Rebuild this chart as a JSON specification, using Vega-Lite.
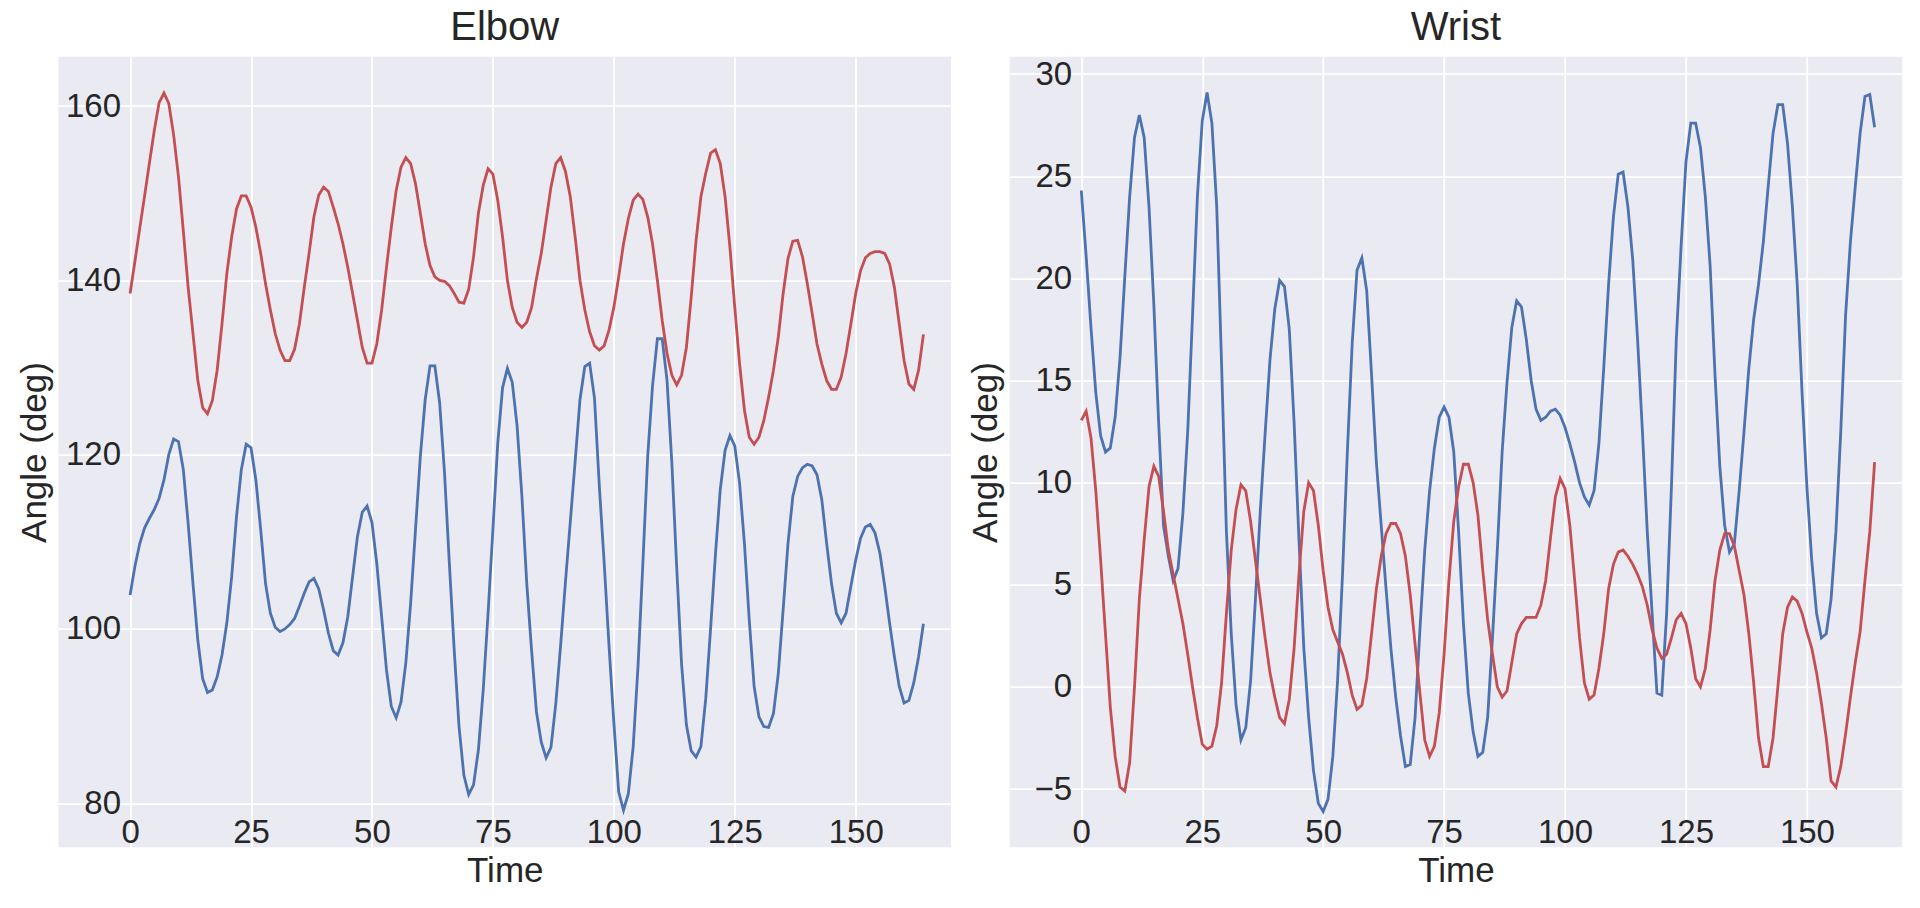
{
  "$schema": "https://vega.github.io/schema/vega-lite/v6.json",
  "autosize": {"type": "none"},
  "padding": {"left": 58.5, "top": 56.7, "right": 1861.5, "bottom": 851.3},
  "background": "white",
  "bounds": "flush",
  "spacing": 58.2,
  "config": {
    "font": "Liberation Sans",
    "view": {"fill": "#EAEAF2", "stroke": null},
    "axis": {
      "domain": false, "ticks": false, "tickSize": 0, "labelPadding": 0,
      "gridColor": "white", "gridWidth": 1.8,
      "labelFont": "Liberation Sans", "labelFontSize": 33, "labelColor": "#262626",
      "titleFont": "Liberation Sans", "titleFontSize": 35, "titleFontWeight": "normal", "titleColor": "#262626",
      "labelFlush": false, "labelOverlap": false
    },
    "title": {"font": "Liberation Sans", "fontSize": 40, "fontWeight": "normal", "color": "#262626", "baseline": "alphabetic", "offset": 9, "frame": "group", "anchor": "middle"}
  },
  "data": {"values": [
    {"t":0,"eb":103.9,"er":138.5,"wb":24.3,"wr":13.05},
    {"t":1,"eb":107.2,"er":142.2,"wb":21.1,"wr":13.5},
    {"t":2,"eb":109.8,"er":146.0,"wb":17.6,"wr":12.2},
    {"t":3,"eb":111.6,"er":149.7,"wb":14.4,"wr":9.6},
    {"t":4,"eb":112.7,"er":153.5,"wb":12.3,"wr":6.2},
    {"t":5,"eb":113.7,"er":157.2,"wb":11.5,"wr":2.6},
    {"t":6,"eb":115.0,"er":160.4,"wb":11.7,"wr":-1.0},
    {"t":7,"eb":117.1,"er":161.5,"wb":13.2,"wr":-3.4},
    {"t":8,"eb":120.0,"er":160.3,"wb":16.1,"wr":-4.9},
    {"t":9,"eb":121.8,"er":156.7,"wb":20.1,"wr":-5.1},
    {"t":10,"eb":121.5,"er":151.9,"wb":24.0,"wr":-3.7},
    {"t":11,"eb":118.3,"er":145.7,"wb":26.9,"wr":0.0},
    {"t":12,"eb":112.1,"er":139.2,"wb":28.0,"wr":4.3},
    {"t":13,"eb":105.2,"er":133.9,"wb":26.9,"wr":7.2},
    {"t":14,"eb":98.7,"er":128.5,"wb":23.5,"wr":9.8},
    {"t":15,"eb":94.3,"er":125.4,"wb":18.7,"wr":10.8},
    {"t":16,"eb":92.7,"er":124.7,"wb":12.9,"wr":10.3},
    {"t":17,"eb":93.0,"er":126.2,"wb":7.9,"wr":8.6},
    {"t":18,"eb":94.5,"er":129.7,"wb":6.4,"wr":6.7},
    {"t":19,"eb":97.0,"er":135.0,"wb":5.2,"wr":5.5},
    {"t":20,"eb":100.7,"er":140.8,"wb":5.8,"wr":4.3},
    {"t":21,"eb":106.0,"er":145.0,"wb":8.5,"wr":3.1},
    {"t":22,"eb":112.9,"er":148.2,"wb":12.5,"wr":1.6},
    {"t":23,"eb":118.3,"er":149.7,"wb":18.2,"wr":0.0},
    {"t":24,"eb":121.2,"er":149.7,"wb":24.0,"wr":-1.5},
    {"t":25,"eb":120.8,"er":148.4,"wb":27.7,"wr":-2.8},
    {"t":26,"eb":117.1,"er":146.1,"wb":29.1,"wr":-3.05},
    {"t":27,"eb":111.4,"er":143.1,"wb":27.6,"wr":-2.9},
    {"t":28,"eb":105.2,"er":139.6,"wb":23.5,"wr":-1.9},
    {"t":29,"eb":101.8,"er":136.6,"wb":15.8,"wr":0.2},
    {"t":30,"eb":100.2,"er":133.9,"wb":7.6,"wr":3.6},
    {"t":31,"eb":99.7,"er":132.0,"wb":2.6,"wr":6.7},
    {"t":32,"eb":100.0,"er":130.8,"wb":-0.9,"wr":8.7},
    {"t":33,"eb":100.5,"er":130.8,"wb":-2.6,"wr":9.9},
    {"t":34,"eb":101.2,"er":132.1,"wb":-2.0,"wr":9.6},
    {"t":35,"eb":102.6,"er":135.0,"wb":0.3,"wr":8.1},
    {"t":36,"eb":104.1,"er":139.2,"wb":4.3,"wr":6.2},
    {"t":37,"eb":105.4,"er":143.1,"wb":8.6,"wr":4.3},
    {"t":38,"eb":105.8,"er":147.3,"wb":12.4,"wr":2.4},
    {"t":39,"eb":104.6,"er":149.8,"wb":16.0,"wr":0.7},
    {"t":40,"eb":102.2,"er":150.7,"wb":18.5,"wr":-0.5},
    {"t":41,"eb":99.5,"er":150.2,"wb":19.9,"wr":-1.5},
    {"t":42,"eb":97.5,"er":148.4,"wb":19.6,"wr":-1.8},
    {"t":43,"eb":97.0,"er":146.5,"wb":17.5,"wr":-0.6},
    {"t":44,"eb":98.4,"er":144.2,"wb":12.9,"wr":1.9},
    {"t":45,"eb":101.4,"er":141.5,"wb":7.2,"wr":5.5},
    {"t":46,"eb":106.0,"er":138.5,"wb":1.9,"wr":8.6},
    {"t":47,"eb":110.6,"er":135.4,"wb":-1.5,"wr":10.0},
    {"t":48,"eb":113.4,"er":132.3,"wb":-4.1,"wr":9.6},
    {"t":49,"eb":114.1,"er":130.5,"wb":-5.7,"wr":7.9},
    {"t":50,"eb":112.2,"er":130.5,"wb":-6.1,"wr":5.7},
    {"t":51,"eb":107.5,"er":132.7,"wb":-5.5,"wr":3.9},
    {"t":52,"eb":101.4,"er":136.6,"wb":-3.4,"wr":2.8},
    {"t":53,"eb":95.3,"er":141.5,"wb":0.4,"wr":2.2},
    {"t":54,"eb":91.1,"er":146.1,"wb":5.5,"wr":1.6},
    {"t":55,"eb":89.8,"er":150.3,"wb":11.5,"wr":0.7},
    {"t":56,"eb":91.6,"er":153.0,"wb":16.8,"wr":-0.4},
    {"t":57,"eb":96.1,"er":154.1,"wb":20.4,"wr":-1.1},
    {"t":58,"eb":103.0,"er":153.4,"wb":21.0,"wr":-0.9},
    {"t":59,"eb":111.4,"er":151.1,"wb":19.4,"wr":0.4},
    {"t":60,"eb":119.8,"er":147.7,"wb":15.3,"wr":2.6},
    {"t":61,"eb":126.3,"er":144.2,"wb":11.0,"wr":4.8},
    {"t":62,"eb":130.2,"er":141.7,"wb":7.9,"wr":6.4},
    {"t":63,"eb":130.2,"er":140.4,"wb":4.8,"wr":7.5},
    {"t":64,"eb":125.9,"er":140.0,"wb":1.9,"wr":8.0},
    {"t":65,"eb":117.9,"er":139.9,"wb":-0.5,"wr":8.0},
    {"t":66,"eb":107.5,"er":139.4,"wb":-2.4,"wr":7.5},
    {"t":67,"eb":97.6,"er":138.5,"wb":-3.9,"wr":6.4},
    {"t":68,"eb":88.8,"er":137.5,"wb":-3.8,"wr":4.5},
    {"t":69,"eb":83.2,"er":137.4,"wb":-1.5,"wr":2.1},
    {"t":70,"eb":81.0,"er":139.0,"wb":2.8,"wr":-0.3},
    {"t":71,"eb":82.1,"er":142.7,"wb":6.7,"wr":-2.6},
    {"t":72,"eb":86.1,"er":147.7,"wb":9.6,"wr":-3.4},
    {"t":73,"eb":93.0,"er":150.9,"wb":11.7,"wr":-2.9},
    {"t":74,"eb":101.8,"er":152.8,"wb":13.2,"wr":-1.25},
    {"t":75,"eb":111.4,"er":152.2,"wb":13.7,"wr":1.6},
    {"t":76,"eb":121.3,"er":149.2,"wb":13.2,"wr":5.2},
    {"t":77,"eb":127.7,"er":145.0,"wb":11.5,"wr":8.1},
    {"t":78,"eb":129.9,"er":140.0,"wb":7.6,"wr":9.8},
    {"t":79,"eb":128.3,"er":136.9,"wb":3.1,"wr":10.9},
    {"t":80,"eb":123.3,"er":135.2,"wb":-0.3,"wr":10.9},
    {"t":81,"eb":115.2,"er":134.6,"wb":-2.2,"wr":10.0},
    {"t":82,"eb":105.2,"er":135.2,"wb":-3.4,"wr":8.4},
    {"t":83,"eb":97.5,"er":136.9,"wb":-3.2,"wr":5.7},
    {"t":84,"eb":90.5,"er":140.2,"wb":-1.5,"wr":3.3},
    {"t":85,"eb":87.0,"er":143.1,"wb":2.4,"wr":1.6},
    {"t":86,"eb":85.2,"er":146.9,"wb":6.7,"wr":0.0},
    {"t":87,"eb":86.4,"er":150.7,"wb":11.5,"wr":-0.5},
    {"t":88,"eb":91.4,"er":153.4,"wb":14.9,"wr":-0.2},
    {"t":89,"eb":98.1,"er":154.1,"wb":17.6,"wr":1.2},
    {"t":90,"eb":105.4,"er":152.5,"wb":18.9,"wr":2.6},
    {"t":91,"eb":112.3,"er":149.6,"wb":18.6,"wr":3.1},
    {"t":92,"eb":119.2,"er":145.0,"wb":17.0,"wr":3.4},
    {"t":93,"eb":126.3,"er":140.0,"wb":15.0,"wr":3.4},
    {"t":94,"eb":130.1,"er":136.6,"wb":13.6,"wr":3.4},
    {"t":95,"eb":130.5,"er":134.1,"wb":13.05,"wr":4.0},
    {"t":96,"eb":126.5,"er":132.5,"wb":13.2,"wr":5.2},
    {"t":97,"eb":116.4,"er":132.0,"wb":13.5,"wr":7.3},
    {"t":98,"eb":107.6,"er":132.5,"wb":13.6,"wr":9.3},
    {"t":99,"eb":98.1,"er":134.3,"wb":13.3,"wr":10.2},
    {"t":100,"eb":89.3,"er":136.9,"wb":12.7,"wr":9.7},
    {"t":101,"eb":81.3,"er":140.4,"wb":11.9,"wr":7.9},
    {"t":102,"eb":79.2,"er":144.2,"wb":11.0,"wr":5.2},
    {"t":103,"eb":81.1,"er":147.1,"wb":10.0,"wr":2.4},
    {"t":104,"eb":86.5,"er":149.2,"wb":9.3,"wr":0.2},
    {"t":105,"eb":95.7,"er":149.9,"wb":8.9,"wr":-0.6},
    {"t":106,"eb":107.5,"er":149.3,"wb":9.6,"wr":-0.4},
    {"t":107,"eb":119.8,"er":147.3,"wb":11.9,"wr":0.9},
    {"t":108,"eb":127.9,"er":144.2,"wb":15.6,"wr":2.6},
    {"t":109,"eb":133.3,"er":140.0,"wb":19.7,"wr":4.8},
    {"t":110,"eb":133.3,"er":135.4,"wb":23.0,"wr":6.0},
    {"t":111,"eb":128.5,"er":131.6,"wb":25.1,"wr":6.6},
    {"t":112,"eb":119.0,"er":129.1,"wb":25.2,"wr":6.7},
    {"t":113,"eb":107.0,"er":128.0,"wb":23.5,"wr":6.4},
    {"t":114,"eb":96.0,"er":129.1,"wb":20.9,"wr":6.0},
    {"t":115,"eb":89.0,"er":132.3,"wb":17.0,"wr":5.5},
    {"t":116,"eb":86.0,"er":138.1,"wb":12.5,"wr":4.9},
    {"t":117,"eb":85.3,"er":144.6,"wb":7.6,"wr":4.0},
    {"t":118,"eb":86.5,"er":149.6,"wb":3.6,"wr":2.8},
    {"t":119,"eb":92.0,"er":152.3,"wb":-0.3,"wr":1.9},
    {"t":120,"eb":100.0,"er":154.6,"wb":-0.4,"wr":1.4},
    {"t":121,"eb":108.5,"er":155.0,"wb":3.6,"wr":1.6},
    {"t":122,"eb":116.0,"er":153.4,"wb":9.8,"wr":2.4},
    {"t":123,"eb":120.5,"er":149.6,"wb":17.0,"wr":3.3},
    {"t":124,"eb":122.2,"er":143.8,"wb":21.6,"wr":3.6},
    {"t":125,"eb":121.0,"er":136.9,"wb":25.7,"wr":3.1},
    {"t":126,"eb":116.7,"er":130.4,"wb":27.6,"wr":1.9},
    {"t":127,"eb":109.8,"er":125.1,"wb":27.6,"wr":0.4},
    {"t":128,"eb":101.0,"er":122.0,"wb":26.4,"wr":0.0},
    {"t":129,"eb":93.4,"er":121.2,"wb":24.0,"wr":0.9},
    {"t":130,"eb":89.9,"er":122.0,"wb":20.6,"wr":2.8},
    {"t":131,"eb":88.8,"er":123.9,"wb":15.3,"wr":5.2},
    {"t":132,"eb":88.7,"er":126.6,"wb":10.8,"wr":6.7},
    {"t":133,"eb":90.3,"er":129.7,"wb":7.9,"wr":7.5},
    {"t":134,"eb":94.9,"er":133.5,"wb":6.6,"wr":7.5},
    {"t":135,"eb":102.2,"er":138.5,"wb":7.0,"wr":6.9},
    {"t":136,"eb":109.8,"er":142.5,"wb":9.6,"wr":5.7},
    {"t":137,"eb":115.2,"er":144.5,"wb":12.5,"wr":4.5},
    {"t":138,"eb":117.5,"er":144.6,"wb":15.6,"wr":2.6},
    {"t":139,"eb":118.5,"er":142.7,"wb":18.0,"wr":0.2},
    {"t":140,"eb":118.9,"er":139.6,"wb":19.7,"wr":-2.5},
    {"t":141,"eb":118.7,"er":136.2,"wb":21.8,"wr":-3.9},
    {"t":142,"eb":117.7,"er":132.7,"wb":24.5,"wr":-3.9},
    {"t":143,"eb":114.8,"er":130.4,"wb":27.1,"wr":-2.5},
    {"t":144,"eb":109.8,"er":128.5,"wb":28.5,"wr":0.0},
    {"t":145,"eb":105.2,"er":127.5,"wb":28.5,"wr":2.6},
    {"t":146,"eb":101.8,"er":127.5,"wb":26.6,"wr":3.9},
    {"t":147,"eb":100.7,"er":128.9,"wb":23.5,"wr":4.4},
    {"t":148,"eb":101.8,"er":131.6,"wb":19.7,"wr":4.2},
    {"t":149,"eb":104.9,"er":135.0,"wb":14.4,"wr":3.6},
    {"t":150,"eb":107.9,"er":138.5,"wb":9.8,"wr":2.7},
    {"t":151,"eb":110.4,"er":141.1,"wb":6.2,"wr":1.9},
    {"t":152,"eb":111.7,"er":142.6,"wb":3.6,"wr":0.7},
    {"t":153,"eb":112.0,"er":143.1,"wb":2.4,"wr":-0.8},
    {"t":154,"eb":111.0,"er":143.3,"wb":2.6,"wr":-2.5},
    {"t":155,"eb":108.7,"er":143.3,"wb":4.3,"wr":-4.6},
    {"t":156,"eb":104.9,"er":143.1,"wb":7.6,"wr":-4.9},
    {"t":157,"eb":100.7,"er":141.9,"wb":12.5,"wr":-3.9},
    {"t":158,"eb":96.8,"er":139.2,"wb":18.2,"wr":-2.3},
    {"t":159,"eb":93.4,"er":135.0,"wb":21.8,"wr":-0.5},
    {"t":160,"eb":91.5,"er":130.8,"wb":24.5,"wr":1.2},
    {"t":161,"eb":91.8,"er":128.1,"wb":27.1,"wr":2.7},
    {"t":162,"eb":93.8,"er":127.5,"wb":28.9,"wr":5.2},
    {"t":163,"eb":96.8,"er":129.7,"wb":29.0,"wr":7.6},
    {"t":164,"eb":100.6,"er":133.8,"wb":27.4,"wr":11.0}
  ]},
  "hconcat": [
    {
      "title": "Elbow",
      "width": 892.5,
      "height": 790.6,
      "transform": [{"fold": ["eb", "er"], "as": ["series", "angle"]}],
      "mark": {"type": "line", "strokeWidth": 2.8},
      "encoding": {
        "x": {
          "field": "t", "type": "quantitative",
          "scale": {"domain": [-14.8, 169.7], "nice": false, "zero": false},
          "axis": {"title": "Time", "values": [0, 25, 50, 75, 100, 125, 150], "offset": -5, "labelBaseline": "alphabetic", "titleBaseline": "alphabetic", "titleY": 39.7}
        },
        "y": {
          "field": "angle", "type": "quantitative",
          "scale": {"domain": [74.94, 165.67], "nice": false, "zero": false},
          "axis": {"title": "Angle (deg)", "values": [80, 100, 120, 140, 160], "offset": -62, "labelBaseline": "middle", "titleBaseline": "middle", "titleX": -86.5}
        },
        "color": {
          "field": "series", "type": "nominal",
          "scale": {"domain": ["eb", "er"], "range": ["#4C72B0", "#C44E52"]},
          "legend": null
        }
      }
    },
    {
      "title": "Wrist",
      "width": 892.5,
      "height": 790.6,
      "transform": [{"fold": ["wb", "wr"], "as": ["series", "angle"]}],
      "mark": {"type": "line", "strokeWidth": 2.8},
      "encoding": {
        "x": {
          "field": "t", "type": "quantitative",
          "scale": {"domain": [-14.8, 169.7], "nice": false, "zero": false},
          "axis": {"title": "Time", "values": [0, 25, 50, 75, 100, 125, 150], "offset": -5, "labelBaseline": "alphabetic", "titleBaseline": "alphabetic", "titleY": 39.7}
        },
        "y": {
          "field": "angle", "type": "quantitative",
          "scale": {"domain": [-7.85, 30.85], "nice": false, "zero": false},
          "axis": {"title": "Angle (deg)", "values": [-5, 0, 5, 10, 15, 20, 25, 30], "offset": -62, "labelBaseline": "middle", "titleBaseline": "middle", "titleX": -86.2}
        },
        "color": {
          "field": "series", "type": "nominal",
          "scale": {"domain": ["wb", "wr"], "range": ["#4C72B0", "#C44E52"]},
          "legend": null
        }
      }
    }
  ]
}
